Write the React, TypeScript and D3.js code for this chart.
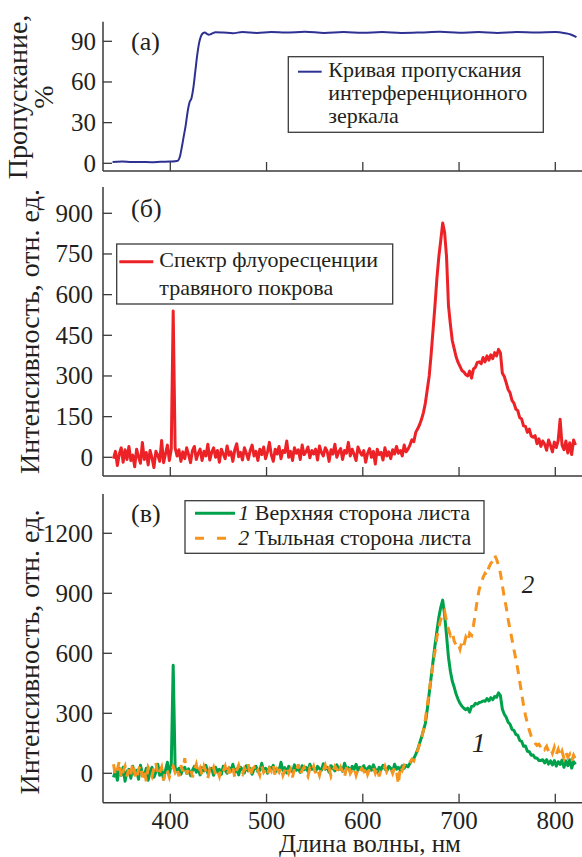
import React from "react";
import * as d3 from "d3";

// ---------- data ----------
// Panel (a): transmission of the interference mirror, %
const transWl = [340, 350, 360, 370, 380, 390, 400, 405, 408, 410, 412, 414, 416, 418, 420, 422, 424, 426, 428, 430, 432, 434, 436, 438, 440, 443, 447, 455, 465, 475, 490, 505, 520, 540, 560, 580, 600, 620, 640, 660, 680, 700, 720, 740, 760, 780, 800, 810, 816, 822];
const transVal = [1, 1.3, 0.9, 1, 0.8, 1.1, 1.3, 1.5, 2, 5, 12, 20, 28, 38, 45, 48, 56, 68, 80, 89, 94, 96, 96.5, 95.5, 94.8, 95.6, 96.6, 96.4, 96, 96.8, 96.2, 96.8, 96.4, 97, 96.2, 96.8, 96.3, 96.8, 96.2, 96.5, 97, 96.3, 96.8, 96.2, 96.8, 96.5, 96.8, 96, 95, 93];

// spectra grid: 341, 343, ... 821 nm
const WL_START = 341;
const WL_STEP = 2;

// Panel (б): fluorescence of grass cover
const redBase = [-5, 22, -30, 12, 35, -18, 28, -8, 40, -12, 8, -35, 30, 2, -22, 55, -8, 18, -28, 25, -2, -38, 22, 8, -15, 62, -20, 12, 45, -12];
const redLaser = [30, 540, 35];
const redMid = [
  5, 28, -15, 20, -5, 35, 10, -20, 25, 40, -8, 15, 30, -12, 22, 5, 48, -10, 18, 35, 0, 25,
  -18, 30, 12, -5, 42, 8, 20, -15, 28, 50, 2, 18, -10, 35, 15, -8, 25, 45, 5, 22, -12, 30, 10, 38, -5,
  20, 55, 8, -15, 30, 12, 40, -5, 25, 18, 60, 0, 22, -12, 35, 15, 28, -8, 45, 10, 20, 38, -2, 25, 12,
  30, -10, 42, 18, 5, 35, 22, -15, 28, 12, 48, 0, 20, 32, -8, 25, 15, 55, 5, 30, 10, -12, 38, 20, 8,
  25, -18, 15, 32, 0, 22, -25, 30, 10, 18, -10, 35, 5, 20, -5, 28, 12, 40, 15, 25, 5, 45, 20, 30,
];
const redBand = [
  45, 65, 58, 92, 105, 120, 140, 165, 200, 250,
  300, 380, 470, 560, 660, 740, 800, 864, 830, 740,
  560, 490, 430, 400, 370, 350, 335, 320, 315, 305,
  300, 318, 292, 326, 332, 350, 352, 345, 368, 352,
  374, 358, 378, 364, 386, 374, 398, 385, 310, 298,
  275, 250, 238, 210, 200, 178, 172, 146, 142, 116,
  114, 92, 104, 78, 74, 80, 50, 68, 40, 60,
  48, 26, 64, 44, 20, 56, 36, 62, 140, 45,
  28, 60, 16, 54, 10, 64, 45,
];

// Panel (в): curve 1 (upper side of leaf)
const greenBase = [-20, 15, -35, 25, -10, 30, -40, 10, 20, -25, 35, -5, 15, -30, 40, 0, -15, 25, -35, 10, 30, -20, 5, 45, -10, 20, -30, 15, 55, 0];
const greenLaser = [40, 540, 30];
const greenMid = [
  10, 25, -5, 18, 30, 0, 22, -12, 15, 35, 5, 20, -8, 28, 12, 40, 0, 18, 25, -10, 30, 8,
  20, -5, 35, 15, 0, 28, 10, 45, 5, 22, -8, 30, 18, 2, 38, 12, 25, -5, 20, 35, 8, 15, 50, 10, 25,
  0, 30, 18, 40, 5, 22, 12, 55, 15, 28, 2, 35, 20, 8, 42, 15, 25, 5, 38, 18, 30, 10, 45, 20, 28,
  8, 35, 22, 15, 48, 20, 30, 5, 38, 25, 12, 42, 18, 30, 10, 50, 22, 28, 8, 35, 20, 45, 15, 30, 18,
  38, 10, 25, 35, 15, 42, 20, 5, 30, 18, 40, 22, 12, 35, 25, 8, 45, 20, 30, 15, 38, 25, 40, 32,
];
const greenBand = [
  50, 65, 75, 95, 118, 150, 180, 215, 250, 320,
  400, 480, 560, 640, 710, 780, 830, 866, 790, 690,
  580, 510, 460, 430, 395, 370, 350, 335, 325, 318,
  326, 306, 334, 336, 350, 346, 354, 356, 362, 360,
  374, 362, 378, 368, 384, 380, 402, 388, 320, 295,
  280, 255, 245, 220, 215, 195, 190, 165, 160, 135,
  136, 110, 108, 90, 92, 76, 76, 64, 64, 68,
  52, 68, 46, 62, 42, 64, 36, 58, 44, 66,
  30, 62, 38, 68, 26, 58, 45,
];

// Panel (в): curve 2 (back side of leaf)
const orangeBase = [45, -10, 20, 60, -25, 10, 35, -15, 25, -5, 50, 5, -30, 20, 40, -20, 15, -40, 30, 10, -15, 25, 55, -10, 5, 30, -35, 20, 10, -20];
const orangeLaser = [15, 35, 5];
const orangeMid = [
  25, -15, 40, 10, 75, -5, 20, 30, -20, 15, 45, 0, 25, -10, 35, 10, -25, 20, 5, 30, -5, 15,
  -15, 25, 10, 35, -10, 20, 0, 30, -20, 15, 40, 5, -5, 25, 10, 45, -15, 20, 30, 0, 15, -10, 35, 5, 20,
  -5, 25, 10, 40, -15, 20, 5, 30, -10, 15, 35, 0, 20, -20, 25, 10, 45, -5, 15, 30, 5, -15, 25, 10, 35,
  0, 20, -10, 30, 15, 40, 5, 25, -15, 10, 35, 20, -5, 30, 10, -20, 25, 45, 0, 15, 30, -10, 20, 5, 25,
  10, 35, -5, 20, 15, 30, 0, 25, -15, 20, 10, 35, 5, 15, 25, 0, 30, 10, -55, 35, 15, 40, 30, 45,
];
const orangeBand = [
  55, 70, 62, 90, 115, 145, 175, 215, 270, 340,
  410, 480, 550, 610, 680, 730, 770, 790, 810, 760,
  720, 690, 705, 660, 640, 650, 620, 660, 640, 680,
  660, 700, 690, 740, 800, 870, 920, 950, 980, 1000,
  990, 1030, 1050, 1060, 1090, 1070, 1040, 1000, 940, 880,
  830, 770, 720, 670, 620, 570, 520, 460, 400, 340,
  290, 250, 215, 185, 165, 150, 140, 145, 130, 140,
  120, 135, 110, 125, 100, 130, 95, 120, 85, 110,
  75, 105, 80, 95, 60, 90, 70,
];

const xTicks = [400, 500, 600, 700, 800];
const yTicksA = [0, 30, 60, 90];
const yTicksB = [0, 150, 300, 450, 600, 750, 900];
const yTicksC = [0, 300, 600, 900, 1200];

const labelA = ["Пропускание,", "%"];
const labelY = "Интенсивность, отн. ед.";
const labelX = "Длина волны, нм";
const legendA = ["Кривая пропускания", "интерференционного", "зеркала"];
const legendB = ["Спектр флуоресценции", "травяного покрова"];
const legendC = [
  { num: "1", text: " Верхняя сторона листа" },
  { num: "2", text: " Тыльная сторона листа" },
];

// ---------- styling ----------
const AX = "#3a3a3a";
const TXT = "#231f20";
const BLUE = "#2e3192";
const RED = "#ec2227";
const GREEN = "#00a14b";
const ORANGE = "#f7941d";
const FONT = "Liberation Serif, DejaVu Serif, serif";

function toPoints(vals: number[]): [number, number][] {
  return vals.map((v, i) => [WL_START + i * WL_STEP, v]);
}

export default function App() {
  const axisLeft = 103;
  const axisRight = 582;
  const x = d3.scaleLinear().domain([400, 800]).range([170.3, 555.3]);
  const yA = d3.scaleLinear().domain([0, 90]).range([163.3, 41.3]);
  const yB = d3.scaleLinear().domain([0, 900]).range([457.3, 213.3]);
  const yC = d3.scaleLinear().domain([0, 1200]).range([773.3, 533.3]);

  const red = toPoints([...redBase, ...redLaser, ...redMid, ...redBand]);
  const green = toPoints([...greenBase, ...greenLaser, ...greenMid, ...greenBand]);
  const orange = toPoints([...orangeBase, ...orangeLaser, ...orangeMid, ...orangeBand]);
  const trans: [number, number][] = transWl.map((w, i) => [w, transVal[i]]);

  const lineA = d3.line<[number, number]>().x((d) => x(d[0])).y((d) => yA(d[1])).curve(d3.curveMonotoneX);
  const lineB = d3.line<[number, number]>().x((d) => x(d[0])).y((d) => yB(d[1]));
  const lineC = d3.line<[number, number]>().x((d) => x(d[0])).y((d) => yC(d[1]));

  const panels = [
    { top: 21.7, bottom: 171, y: yA, ticks: yTicksA, labelEnd: 96 },
    { top: 187, bottom: 476, y: yB, ticks: yTicksB, labelEnd: 93 },
    { top: 494, bottom: 802.7, y: yC, ticks: yTicksC, labelEnd: 93 },
  ];

  const T = (props: any) => <text fill={TXT} style={{ fontFamily: FONT }} {...props} />;

  return (
    <svg width={582} height={857} style={{ position: "absolute", left: 0, top: 0, background: "#fff" }}>
      <rect x={0} y={0} width={582} height={857} fill="#fff" />
      {panels.map((p, pi) => (
        <g key={pi}>
          <line x1={axisLeft} x2={axisLeft} y1={p.top} y2={p.bottom} stroke={AX} strokeWidth={1.5} />
          <line x1={axisLeft} x2={axisRight} y1={p.bottom} y2={p.bottom} stroke={AX} strokeWidth={1.5} />
          {p.ticks.map((t) => (
            <g key={t}>
              <line x1={axisLeft} x2={axisLeft + 9} y1={p.y(t)} y2={p.y(t)} stroke={AX} strokeWidth={1.3} />
              <T x={p.labelEnd} y={p.y(t) + 8.5} textAnchor="end" fontSize={25}>{t}</T>
            </g>
          ))}
          {xTicks.map((t) => (
            <line key={t} x1={x(t)} x2={x(t)} y1={p.bottom} y2={p.bottom - 9} stroke={AX} strokeWidth={1.3} />
          ))}
        </g>
      ))}

      {/* x tick labels */}
      {xTicks.map((t) => (
        <T key={t} x={x(t)} y={829} textAnchor="middle" fontSize={25}>{t}</T>
      ))}
      <T x={370} y={852} textAnchor="middle" fontSize={25}>{labelX}</T>

      {/* y axis titles */}
      <T transform="translate(27,97) rotate(-90)" textAnchor="middle" fontSize={28}>{labelA[0]}</T>
      <T transform="translate(53,97) rotate(-90)" textAnchor="middle" fontSize={28}>{labelA[1]}</T>
      <T transform="translate(39,331.5) rotate(-90)" textAnchor="middle" fontSize={28}>{labelY}</T>
      <T transform="translate(39,652) rotate(-90)" textAnchor="middle" fontSize={28}>{labelY}</T>

      {/* panel labels */}
      <T x={131} y={50} fontSize={26}>(а)</T>
      <T x={131} y={216.5} fontSize={26}>(б)</T>
      <T x={131} y={522} fontSize={26}>(в)</T>

      {/* data */}
      <path d={lineA(trans) || ""} fill="none" stroke={BLUE} strokeWidth={2} />
      <path d={lineB(red) || ""} fill="none" stroke={RED} strokeWidth={3} strokeLinejoin="round" />
      <path d={lineC(green) || ""} fill="none" stroke={GREEN} strokeWidth={3} strokeLinejoin="round" />
      <path d={lineC(orange) || ""} fill="none" stroke={ORANGE} strokeWidth={3} strokeDasharray="9,7" />

      {/* legend (a) */}
      <rect x={288.3} y={56.7} width={255} height={75.6} fill="#fff" stroke={AX} strokeWidth={1.3} />
      <line x1={298} x2={321.7} y1={71.7} y2={71.7} stroke={BLUE} strokeWidth={2} />
      {legendA.map((s, i) => (
        <T key={i} x={328.3} y={76.7 + i * 23.3} fontSize={22}>{s}</T>
      ))}

      {/* legend (б) */}
      <rect x={116.7} y={244} width={276} height={60} fill="#fff" stroke={AX} strokeWidth={1.3} />
      <line x1={119.3} x2={153.3} y1={261.7} y2={261.7} stroke={RED} strokeWidth={3} />
      {legendB.map((s, i) => (
        <T key={i} x={159.3} y={266.7 + i * 28.3} fontSize={22}>{s}</T>
      ))}

      {/* legend (в) */}
      <rect x={185} y={500.7} width={299} height={52.6} fill="#fff" stroke={AX} strokeWidth={1.3} />
      <line x1={195} x2={235} y1={513.3} y2={513.3} stroke={GREEN} strokeWidth={3} />
      <line x1={195} x2={235} y1={538.3} y2={538.3} stroke={ORANGE} strokeWidth={3} strokeDasharray="9,13" />
      {legendC.map((s, i) => (
        <T key={i} x={238.3} y={520 + i * 25} fontSize={22}>
          <tspan fontStyle="italic">{s.num}</tspan>
          {s.text}
        </T>
      ))}

      {/* curve annotations */}
      <T x={521.7} y={593.3} fontSize={25} fontStyle="italic">2</T>
      <T x={471.7} y={751.7} fontSize={28} fontStyle="italic">1</T>
    </svg>
  );
}
